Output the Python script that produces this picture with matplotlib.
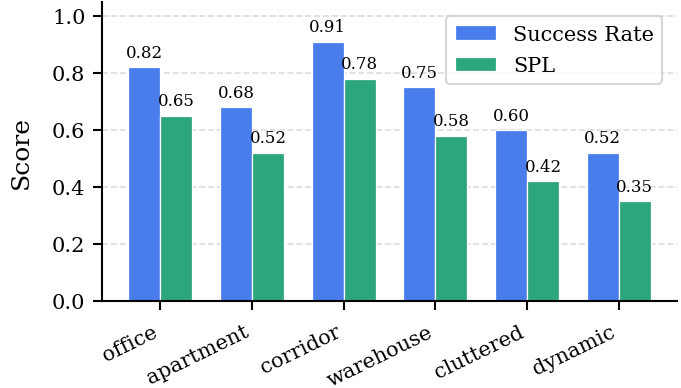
import numpy as np
import matplotlib
matplotlib.use('Agg')
import matplotlib.pyplot as plt
import matplotlib.transforms as mtransforms

# data
scenes = ['office', 'apartment', 'corridor', 'warehouse', 'cluttered', 'dynamic']
success_rate = [0.82, 0.68, 0.91, 0.75, 0.60, 0.52]
spl = [0.65, 0.52, 0.78, 0.58, 0.42, 0.35]

plt.rcParams['font.family'] = 'DejaVu Serif'

fig, ax = plt.subplots(figsize=(4.54, 2.593), dpi=150)
fig.subplots_adjust(left=0.150, right=0.994, bottom=0.224, top=0.993)

x = np.arange(len(scenes))
w = 0.35
b1 = ax.bar(x - w / 2, success_rate, w, color='#4a7dec', edgecolor='white', linewidth=0.6, label='Success Rate')
b2 = ax.bar(x + w / 2, spl, w, color='#2ca77d', edgecolor='white', linewidth=0.6, label='SPL')

for bars in (b1, b2):
    for b in bars:
        h = b.get_height()
        ax.annotate(f'{h:.2f}', (b.get_x() + b.get_width() / 2, h), xytext=(0, 3),
                    textcoords='offset points', ha='center', va='bottom', fontsize=8)

ax.set_ylim(0, 1.05)
ax.set_ylabel('Score', fontsize=12, labelpad=9)
ax.set_xticks(x)
ax.set_xticklabels(scenes, rotation=26, ha='right', fontsize=10)
shift = mtransforms.ScaledTranslation(-2 / 72, 0, fig.dpi_scale_trans)
for lab in ax.get_xticklabels():
    lab.set_transform(lab.get_transform() + shift)
ax.tick_params(axis='x', pad=5.5)
ax.tick_params(axis='y', labelsize=10)
ax.tick_params(width=1.0, length=4.5)
for s in ('top', 'right'):
    ax.spines[s].set_visible(False)
for s in ('left', 'bottom'):
    ax.spines[s].set_linewidth(1.0)
ax.yaxis.grid(True, linestyle='--', color='#dddddd', linewidth=0.8)
ax.set_axisbelow(True)
ax.legend(loc='upper right', fontsize=10, labelspacing=0.6, borderaxespad=0.7)

fig.savefig('out.png', dpi=150)
